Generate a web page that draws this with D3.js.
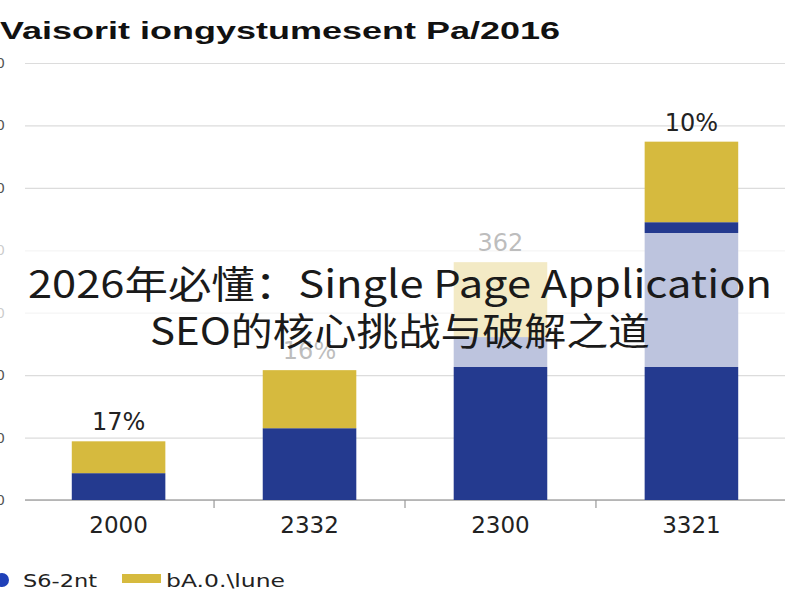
<!DOCTYPE html>
<html><head><meta charset="utf-8">
<script src="https://cdn.jsdelivr.net/npm/d3@7"></script>
<style>
html,body{margin:0;padding:0;background:#fff;}
svg{display:block;}
</style></head>
<body>
<svg id="c" width="800" height="600"></svg>
<script>
const categories = ["2000", "2332", "2300", "3321"];
const blueValues = [4.3, 11.5, 26.1, 44.5];
const yellowValues = [5.1, 9.3, 12.0, 12.9];
const valueLabels = ["17%", "16%", "362", "10%"];
const yTicks = [0, 10, 20, 30, 40, 50, 60, 70];
const seriesNames = ["S6-2nt", "bA.0.\\lune"];
const chartTitle = "Vaisorit iongystumesent Pa/2016";
const overlayLines = ["2026年必懂：Single Page Application", "SEO的核心挑战与破解之道"];

(function () {
const BLUE = "#243a8f", YELLOW = "#d6ba3e";
const svg = d3.select("#c");
const mLeft = 25, mRight = 785, mTop = 63, mBottom = 500;
const FONT = "DejaVu Sans, Verdana, sans-serif";

const x = d3.scaleBand().domain(categories).range([mLeft, mRight]).paddingInner(0.51).paddingOuter(0.245);
const y = d3.scaleLinear().domain([0, 70]).range([mBottom, mTop]);

// gridlines + y labels
const ga = svg.append("g").attr("transform", `translate(${mLeft},0)`)
  .call(d3.axisLeft(y).tickValues(yTicks).tickSize(-(mRight - mLeft)).tickPadding(20));
ga.select(".domain").remove();
ga.selectAll(".tick line").attr("stroke", "#dcdcdc").attr("stroke-width", 1.2);
ga.selectAll(".tick text").attr("font-family", FONT).attr("font-size", 14).attr("fill", "#555");

// baseline
svg.append("line").attr("x1", mLeft).attr("x2", mRight).attr("y1", y(0)).attr("y2", y(0))
  .attr("stroke", "#a8a8a8").attr("stroke-width", 1.5);
// boundary ticks
svg.selectAll("line.bt").data(categories.slice(1)).enter().append("line").attr("class", "bt")
  .attr("x1", d => x(d) - x.step() * x.paddingInner() / 2)
  .attr("x2", d => x(d) - x.step() * x.paddingInner() / 2)
  .attr("y1", y(0)).attr("y2", y(0) + 8).attr("stroke", "#999").attr("stroke-width", 1.2);

// bars
const bars = svg.append("g");
categories.forEach((c, i) => {
  bars.append("rect").attr("x", x(c)).attr("width", x.bandwidth())
    .attr("y", y(blueValues[i])).attr("height", y(0) - y(blueValues[i])).attr("fill", BLUE);
  bars.append("rect").attr("x", x(c)).attr("width", x.bandwidth())
    .attr("y", y(blueValues[i] + yellowValues[i])).attr("height", y(blueValues[i]) - y(blueValues[i] + yellowValues[i])).attr("fill", YELLOW);
  bars.append("text").attr("x", x(c) + x.bandwidth() / 2).attr("y", y(blueValues[i] + yellowValues[i]) - 11)
    .attr("text-anchor", "middle").attr("font-family", FONT)
    .attr("font-size", 24).attr("fill", "#222").text(valueLabels[i]);
});

// x labels
const xa = svg.append("g").attr("transform", `translate(0,${mBottom})`)
  .call(d3.axisBottom(x).tickSize(0));
xa.select(".domain").remove();
xa.selectAll(".tick text").attr("y", 33).attr("dy", null)
  .attr("font-family", FONT).attr("font-size", 23).attr("fill", "#222");

// title
svg.append("text").attr("x", 0).attr("y", 39).attr("font-family", "Liberation Sans, Arial, sans-serif")
  .attr("font-size", 24).attr("font-weight", "bold").attr("fill", "#111")
  .attr("textLength", 560).attr("lengthAdjust", "spacingAndGlyphs").text(chartTitle);

// legend
const lg = svg.append("g");
lg.append("circle").attr("cx", 2).attr("cy", 580).attr("r", 7).attr("fill", "#1f40b8");
lg.append("text").attr("x", 23).attr("y", 587).attr("font-family", FONT)
  .attr("font-size", 18).attr("fill", "#222")
  .attr("textLength", 74).attr("lengthAdjust", "spacingAndGlyphs").text(seriesNames[0]);
lg.append("rect").attr("x", 122).attr("y", 574).attr("width", 39).attr("height", 9).attr("fill", YELLOW);
lg.append("text").attr("x", 166).attr("y", 587).attr("font-family", FONT)
  .attr("font-size", 18).attr("fill", "#222")
  .attr("textLength", 119).attr("lengthAdjust", "spacingAndGlyphs").text(seriesNames[1]);

// overlay band
svg.append("rect").attr("x", 0).attr("y", 233).attr("width", 800).attr("height", 134)
  .attr("fill", "#fff").attr("opacity", 0.7);
const ot = svg.append("g").attr("font-family", "Noto Sans CJK SC, Noto Sans, sans-serif").attr("fill", "#1a1a1a");
ot.append("text").attr("x", 400).attr("y", 298).attr("text-anchor", "middle").attr("font-size", 38)
  .attr("textLength", 744).attr("lengthAdjust", "spacingAndGlyphs").text(overlayLines[0]);
ot.append("text").attr("x", 400).attr("y", 345).attr("text-anchor", "middle").attr("font-size", 38)
  .attr("textLength", 500).attr("lengthAdjust", "spacingAndGlyphs").text(overlayLines[1]);
})();
</script>
</body></html>
